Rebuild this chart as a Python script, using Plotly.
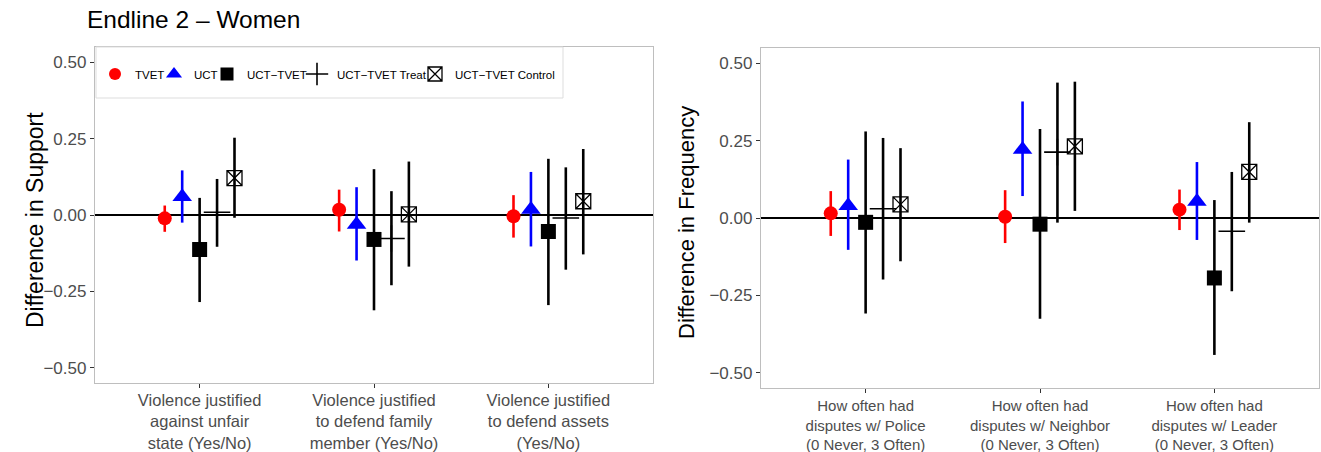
import plotly.graph_objects as go

# ---------------- data ----------------
series_names = ["TVET", "UCT", "UCT\u2212TVET", "UCT\u2212TVET Treat", "UCT\u2212TVET Control"]

left_categories = [
    "Violence justified<br>against unfair<br>state (Yes/No)",
    "Violence justified<br>to defend family<br>member (Yes/No)",
    "Violence justified<br>to defend assets<br>(Yes/No)",
]
right_categories = [
    "How often had<br>disputes w/ Police<br>(0 Never, 3 Often)",
    "How often had<br>disputes w/ Neighbor<br>(0 Never, 3 Often)",
    "How often had<br>disputes w/ Leader<br>(0 Never, 3 Often)",
]

# Left panel: Difference in Support (estimate, lower CI, upper CI), one list per series
left_est = {
    "TVET": [-0.011, 0.017, -0.004],
    "UCT": [0.060, -0.031, 0.018],
    "UCT\u2212TVET": [-0.113, -0.080, -0.054],
    "UCT\u2212TVET Treat": [0.009, -0.077, -0.010],
    "UCT\u2212TVET Control": [0.121, 0.002, 0.045],
}
left_lo = {
    "TVET": [-0.055, -0.054, -0.074],
    "UCT": [-0.025, -0.149, -0.103],
    "UCT\u2212TVET": [-0.285, -0.312, -0.295],
    "UCT\u2212TVET Treat": [-0.104, -0.230, -0.179],
    "UCT\u2212TVET Control": [-0.009, -0.169, -0.129],
}
left_hi = {
    "TVET": [0.031, 0.083, 0.065],
    "UCT": [0.146, 0.091, 0.141],
    "UCT\u2212TVET": [0.056, 0.150, 0.184],
    "UCT\u2212TVET Treat": [0.118, 0.078, 0.156],
    "UCT\u2212TVET Control": [0.253, 0.175, 0.216],
}

# Right panel: Difference in Frequency
right_est = {
    "TVET": [0.015, 0.004, 0.027],
    "UCT": [0.040, 0.222, 0.053],
    "UCT\u2212TVET": [-0.014, -0.020, -0.194],
    "UCT\u2212TVET Treat": [0.030, 0.213, -0.043],
    "UCT\u2212TVET Control": [0.044, 0.232, 0.149],
}
right_lo = {
    "TVET": [-0.058, -0.081, -0.039],
    "UCT": [-0.103, 0.071, -0.071],
    "UCT\u2212TVET": [-0.309, -0.326, -0.443],
    "UCT\u2212TVET Treat": [-0.199, -0.015, -0.237],
    "UCT\u2212TVET Control": [-0.140, 0.023, -0.015],
}
right_hi = {
    "TVET": [0.087, 0.090, 0.092],
    "UCT": [0.189, 0.377, 0.181],
    "UCT\u2212TVET": [0.280, 0.288, 0.058],
    "UCT\u2212TVET Treat": [0.259, 0.438, 0.149],
    "UCT\u2212TVET Control": [0.226, 0.441, 0.310],
}

y_ticks = [-0.50, -0.25, 0.00, 0.25, 0.50]
y_tick_labels = ["\u22120.50", "\u22120.25", "0.00", "0.25", "0.50"]

# ---------------- styling ----------------
W, H = 1321, 452
FONT = "Liberation Sans, Arial, Helvetica, sans-serif"
dodge = {s: (i - 2) * 0.1 for i, s in enumerate(series_names)}
colors = {
    "TVET": "#FF0000",
    "UCT": "#0000FF",
    "UCT\u2212TVET": "#000000",
    "UCT\u2212TVET Treat": "#000000",
    "UCT\u2212TVET Control": "#000000",
}
symbols = {
    "TVET": dict(symbol="circle", size=14),
    "UCT": dict(symbol="triangle-up", size=17),
    "UCT\u2212TVET": dict(symbol="square", size=15),
    "UCT\u2212TVET Treat": dict(symbol="cross-thin", size=19, line=dict(width=1.6, color="#000000")),
    "UCT\u2212TVET Control": dict(symbol="square-x-open", size=15, line=dict(width=1.3, color="#000000")),
}
legend_symbols = {
    "TVET": dict(symbol="circle", size=12),
    "UCT": dict(symbol="triangle-up", size=14),
    "UCT\u2212TVET": dict(symbol="square", size=13),
    "UCT\u2212TVET Treat": dict(symbol="cross-thin", size=16, line=dict(width=1.6, color="#000000")),
    "UCT\u2212TVET Control": dict(symbol="square-x-open", size=14, line=dict(width=1.3, color="#000000")),
}
# left edge (px) of each legend entry box
legend_x_px = [95, 154, 207, 297, 415]

fig = go.Figure()

def add_panel(est, lo, hi, xa, ya):
    for s in series_names:
        xs = [i + 1 + dodge[s] for i in range(3)]
        ys = est[s]
        plus = [h - e for h, e in zip(hi[s], ys)]
        minus = [e - l for e, l in zip(ys, lo[s])]
        mk = dict(color=colors[s], **symbols[s])
        fig.add_trace(go.Scatter(
            x=xs, y=ys, mode="markers", marker=mk, name=s, showlegend=False,
            xaxis=xa, yaxis=ya,
            error_y=dict(type="data", symmetric=False, array=plus, arrayminus=minus,
                         width=0, thickness=2.6, color=colors[s]),
        ))

add_panel(left_est, left_lo, left_hi, "x", "y")
add_panel(right_est, right_lo, right_hi, "x2", "y2")

# legend keys: one legend per entry so the entries can sit tightly like the original
legend_layouts = {}
for i, s in enumerate(series_names):
    lname = "legend" if i == 0 else f"legend{i + 1}"
    mk = dict(color=colors[s], **legend_symbols[s])
    fig.add_trace(go.Scatter(x=[None], y=[None], mode="markers", name=s,
                             marker=mk, xaxis="x", yaxis="y", showlegend=True,
                             legend=lname))
    legend_layouts[lname] = dict(
        orientation="h", x=legend_x_px[i] / W, y=1 - 74 / H, xanchor="left", yanchor="middle",
        bgcolor="rgba(0,0,0,0)", borderwidth=0, itemwidth=30,
        font=dict(family=FONT, size=11.5, color="#000000"),
    )

def px_x(a, b):
    return [a / W, b / W]

def px_y(top, bottom):
    return [1 - bottom / H, 1 - top / H]

axis_common = dict(
    showgrid=False, showline=True, linecolor="#BEBEBE", linewidth=1.3, mirror=True,
    ticks="outside", ticklen=4, tickwidth=1.3, tickcolor="#333333", automargin=False,
    tickfont=dict(family=FONT, size=17, color="#4D4D4D"),
)

fig.update_layout(
    width=W, height=H, margin=dict(l=0, r=0, t=0, b=0, autoexpand=False),
    paper_bgcolor="white", plot_bgcolor="white",
    font=dict(family=FONT),
    xaxis=dict(domain=px_x(95, 653), range=[0.4, 3.6], tickvals=[1, 2, 3],
               ticktext=left_categories, zeroline=False, ticklabelstandoff=-2, **{**axis_common,
               "tickfont": dict(family=FONT, size=16.5, color="#4D4D4D")}),
    yaxis=dict(domain=px_y(47, 383), range=[-0.55, 0.55], tickvals=y_ticks,
               ticktext=y_tick_labels, zeroline=True, zerolinecolor="#000000",
               zerolinewidth=2, **axis_common),
    xaxis2=dict(domain=px_x(761, 1319), range=[0.4, 3.6], tickvals=[1, 2, 3],
                ticktext=right_categories, anchor="y2", zeroline=False, **{**axis_common,
                "tickfont": dict(family=FONT, size=15, color="#4D4D4D")}),
    yaxis2=dict(domain=px_y(48, 388), range=[-0.55, 0.55], tickvals=y_ticks,
                ticktext=y_tick_labels, anchor="x2", zeroline=True, zerolinecolor="#000000",
                zerolinewidth=2, **axis_common),
    title=dict(text="Endline 2 \u2013 Women", x=87 / W, xanchor="left", xref="paper",
               y=1 - 19 / H, yanchor="middle", yref="paper",
               font=dict(family=FONT, size=24.5, color="#000000")),
    shapes=[
        dict(type="rect", xref="paper", yref="paper", x0=96 / W, x1=563 / W,
             y0=1 - 98 / H, y1=1 - 47 / H, fillcolor="white",
             line=dict(color="#DDDDDD", width=1), layer="above"),
    ],
    annotations=[
        dict(text="Difference in Support", x=20 / W, y=1 - 220 / H, xref="paper", yref="paper",
             showarrow=False, textangle=-90, font=dict(family=FONT, size=23, color="#000000")),
        dict(text="Difference in Frequency", x=686 / W, y=1 - 223 / H, xref="paper", yref="paper",
             showarrow=False, textangle=-90, font=dict(family=FONT, size=22, color="#000000")),
    ],
    **legend_layouts,
)

fig.write_html("out.html")
